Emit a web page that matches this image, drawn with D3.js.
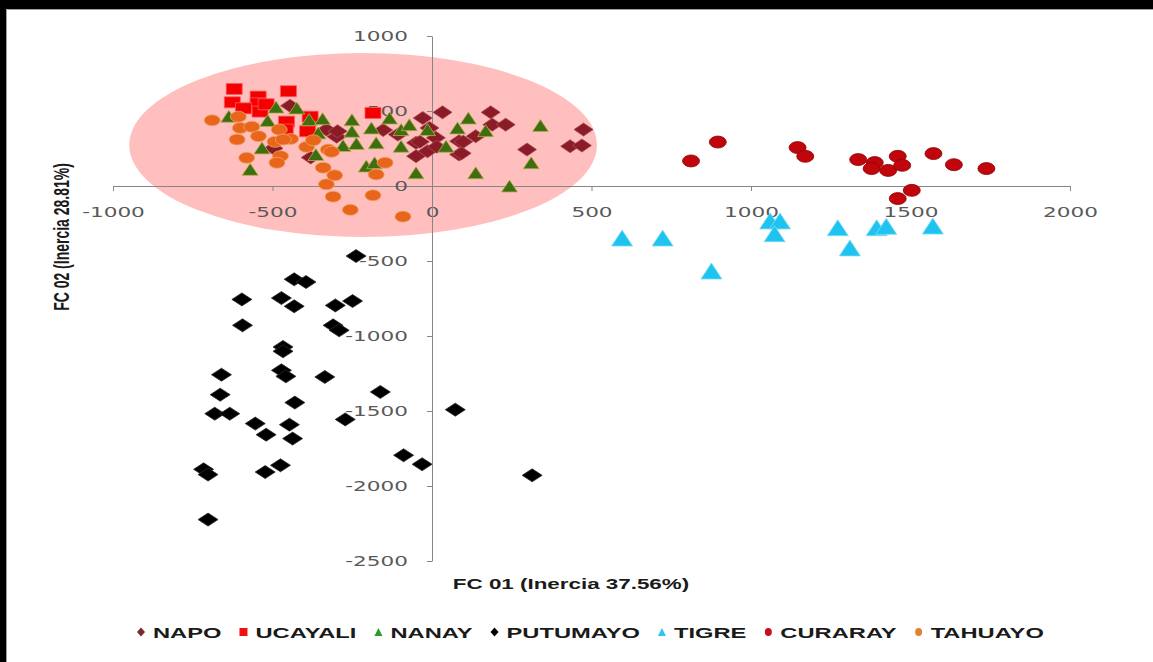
<!DOCTYPE html>
<html>
<head>
<meta charset="utf-8">
<script src="https://cdn.jsdelivr.net/npm/d3@7"></script>
<style>
  html, body { margin: 0; padding: 0; background: #fff; overflow: hidden; }
  svg { display: block; }
</style>
</head>
<body>
<svg id="chart" width="1153" height="662"></svg>
<script>
// PCA scores (FC 01, FC 02) per river basin
const napo = [
  [-445,535],[-497,251],[-380,190],[-331,376],[-299,329],[-296,365],[-153,373],[-107,343],
  [-50,288],[-50,199],[-38,295],[-29,453],[-14,232],[-8,387],[12,321],[15,262],[33,491],
  [85,299],[85,210],[93,218],[98,295],[137,332],[184,491],[189,409],[231,409],[298,243],
  [433,265],[470,270],[475,376]
];
const ucayali = [
  [-620,647],[-450,632],[-545,596],[-626,558],[-545,551],[-591,518],[-539,496],[-520,545],
  [-456,429],[-460,376],[-390,365],[-382,462],[-185,487]
];
const nanay = [
  [-637,465],[-489,526],[-424,520],[-515,436],[-385,442],[-343,449],[-251,442],[-251,365],
  [-190,387],[-357,354],[-279,270],[-237,283],[-175,288],[-533,254],[-570,111],[-364,210],
  [-206,133],[-180,155],[-133,453],[-97,376],[-97,265],[-71,409],[-14,376],[-50,88],
  [44,265],[80,387],[114,453],[168,369],[137,88],[311,155],[340,403],[243,0]
];
const putumayo = [
  [-238,-467],[-432,-622],[-395,-640],[-596,-756],[-472,-747],[-432,-802],[-303,-796],[-249,-767],
  [-594,-929],[-310,-929],[-291,-962],[-467,-1073],[-467,-1102],[-660,-1258],[-472,-1229],[-458,-1269],
  [-336,-1273],[-664,-1391],[-162,-1373],[-430,-1444],[-681,-1518],[-634,-1518],[-272,-1556],[73,-1491],
  [-554,-1584],[-447,-1591],[-520,-1658],[-437,-1684],[-89,-1795],[-31,-1855],[-475,-1862],[-523,-1907],
  [-716,-1889],[-702,-1924],[314,-1929],[-702,-2224]
];
const tigre = [
  [596,-347],[723,-347],[876,-567],[1060,-233],[1091,-233],[1074,-318],[1272,-278],[1310,-413],
  [1394,-278],[1424,-269],[1570,-267]
];
const curaray = [
  [812,167],[896,293],[1146,256],[1170,198],[1336,176],[1388,156],[1378,116],[1430,104],
  [1460,198],[1474,138],[1572,216],[1636,142],[1738,116],[1504,-29],[1460,-84]
];
const tahuayo = [
  [-689,438],[-607,462],[-601,387],[-565,395],[-611,310],[-544,332],[-581,188],[-479,376],
  [-492,295],[-443,314],[-466,310],[-475,199],[-486,155],[-393,261],[-372,305],[-325,243],
  [-315,228],[-341,122],[-305,71],[-331,11],[-310,-71],[-256,-159],[-185,-62],[-175,77],
  [-147,155],[-91,-204]
];

const seriesNames = ["NAPO", "UCAYALI", "NANAY", "PUTUMAYO", "TIGRE", "CURARAY", "TAHUAYO"];
const seriesData = [napo, ucayali, nanay, putumayo, tigre, curaray, tahuayo];

const xTicks = [-1000, -500, 0, 500, 1000, 1500, 2000];
const yTicks = [1000, 500, 0, -500, -1000, -1500, -2000, -2500];
const xTitle = "FC 01 (Inercia 37.56%)";
const yTitle = "FC 02 (Inercia 28.81%)";

// highlighted group: centre and radii in score units
const groupEllipse = { cx: -216, cy: 273, rx: 733, ry: 613 };

// marker appearance per series
const markerStyle = {
  NAPO:     { shape: "diamond",  w: 19, h: 13, fill: "#8a1c27", stroke: "#a84852" },
  UCAYALI:  { shape: "square",   w: 16, h: 11, fill: "#f40000", stroke: "#ff5a5a" },
  NANAY:    { shape: "triangle", w: 16, h: 12, fill: "#3f6e10", stroke: "#b9ad4e" },
  PUTUMAYO: { shape: "diamond",  w: 20, h: 13, fill: "#000000", stroke: "#2a2a2a" },
  TIGRE:    { shape: "triangle", w: 21, h: 16, fill: "#1ec3f0", stroke: "#80dcf5" },
  CURARAY:  { shape: "circle",   w: 17, h: 12, fill: "#c0060c", stroke: "#8c0000" },
  TAHUAYO:  { shape: "circle",   w: 16, h: 11, fill: "#e8661c", stroke: "#f2a264" }
};
const legendColor = {
  NAPO: "#7a2a30", UCAYALI: "#f01010", NANAY: "#2f9a2f", PUTUMAYO: "#000000",
  TIGRE: "#2ec4ef", CURARAY: "#c8101a", TAHUAYO: "#e0822e"
};

const S = 1.6;        // horizontal stretch of the axis text
const SL = 1.58;      // horizontal stretch of the legend text
const W = 1153, H = 662;

function markerPath(shape, w, h) {
  const a = w / 2, b = h / 2;
  switch (shape) {
    case "circle":
      return `M${-a},0A${a},${b} 0 1 0 ${a},0A${a},${b} 0 1 0 ${-a},0Z`;
    case "square":
      return `M${-a},${-b}H${a}V${b}H${-a}Z`;
    case "triangle":
      return `M0,${-b}L${a},${b}L${-a},${b}Z`;
    default:
      return `M0,${-b}L${a},0L0,${b}L${-a},0Z`;
  }
}

const svg = d3.select("#chart");

// frame: dark bands along the top and left edges
svg.append("rect").attr("width", W).attr("height", H).attr("fill", "#fff");
svg.append("rect").attr("x", 0).attr("y", 0).attr("width", W).attr("height", 9).attr("fill", "#000");
svg.append("rect").attr("x", 0).attr("y", 0).attr("width", 6).attr("height", H).attr("fill", "#000");
svg.append("path").attr("d", `M6.5,${H}V9.5H${W}`).attr("fill", "none").attr("stroke", "#a0a0a0");

const x = d3.scaleLinear().domain([-1000, 2000]).range([113, 1070]);
const y = d3.scaleLinear().domain([-2500, 1000]).range([561, 36]);

// group ellipse
svg.append("ellipse")
  .attr("cx", x(groupEllipse.cx))
  .attr("cy", y(groupEllipse.cy))
  .attr("rx", x(groupEllipse.cx + groupEllipse.rx) - x(groupEllipse.cx))
  .attr("ry", y(groupEllipse.cy) - y(groupEllipse.cy + groupEllipse.ry))
  .attr("fill", "#ffbfbf");

// axes
const axisColor = "#868686";
const labelColor = "#595959";

const gx = svg.append("g")
  .attr("transform", `translate(0,${y(0)})`)
  .call(d3.axisBottom(x).tickValues(xTicks).tickSize(5).tickSizeOuter(0).tickFormat(d => String(d)));
const gy = svg.append("g")
  .attr("transform", `translate(${x(0)},0)`)
  .call(d3.axisLeft(y).tickValues(yTicks).tickSize(5).tickSizeOuter(0).tickFormat(d => String(d)));

[gx, gy].forEach(g => {
  g.select(".domain").attr("stroke", axisColor);
  g.selectAll(".tick line").attr("stroke", axisColor);
  g.selectAll(".tick text")
    .attr("fill", labelColor)
    .attr("font-family", "'DejaVu Sans', Verdana, sans-serif")
    .attr("font-size", "13.5px")
    .attr("transform", `scale(${S},1)`);
});
gx.selectAll(".tick text").attr("y", 21);
gy.selectAll(".tick text").attr("x", -24 / S);

// markers, drawn series by series
seriesNames.forEach((name, i) => {
  const st = markerStyle[name];
  const d = markerPath(st.shape, st.w, st.h);
  svg.append("g").attr("class", "series")
    .selectAll("path")
    .data(seriesData[i])
    .join("path")
    .attr("transform", p => `translate(${x(p[0])},${y(p[1])})`)
    .attr("d", d)
    .attr("fill", st.fill)
    .attr("stroke", st.stroke)
    .attr("stroke-width", 0.8);
});

// axis titles
const titleFont = "'Liberation Sans', Arial, sans-serif";
svg.append("text")
  .attr("transform", `translate(571,589) scale(${S},1)`)
  .attr("text-anchor", "middle")
  .attr("font-family", titleFont)
  .attr("font-weight", "bold")
  .attr("font-size", "14px")
  .attr("fill", "#1a1a1a")
  .text(xTitle);
svg.append("text")
  .attr("transform", `translate(61,237) scale(${S},1) rotate(-90)`)
  .attr("text-anchor", "middle")
  .attr("dominant-baseline", "central")
  .attr("font-family", titleFont)
  .attr("font-weight", "bold")
  .attr("font-size", "14px")
  .attr("fill", "#1a1a1a")
  .text(yTitle);

// legend
const legendY = 632;
const legendMarker = { NAPO: [8, 9], UCAYALI: [8, 8], NANAY: [8, 8], PUTUMAYO: [8, 9], TIGRE: [8, 8], CURARAY: [7, 8], TAHUAYO: [7, 8] };
let cx = 141;
seriesNames.forEach(name => {
  const st = markerStyle[name];
  const [mw, mh] = legendMarker[name];
  svg.append("path")
    .attr("transform", `translate(${cx},${legendY})`)
    .attr("d", markerPath(st.shape, mw, mh))
    .attr("fill", legendColor[name]);
  const t = svg.append("text")
    .attr("transform", `translate(${cx + 12},${legendY + 5.5}) scale(${SL},1)`)
    .attr("font-family", titleFont)
    .attr("font-weight", "bold")
    .attr("font-size", "15px")
    .attr("fill", "#1a1a1a")
    .text(name);
  const w = t.node().getComputedTextLength() * SL;
  cx = cx + 12 + w + 22;
});
</script>
</body>
</html>
